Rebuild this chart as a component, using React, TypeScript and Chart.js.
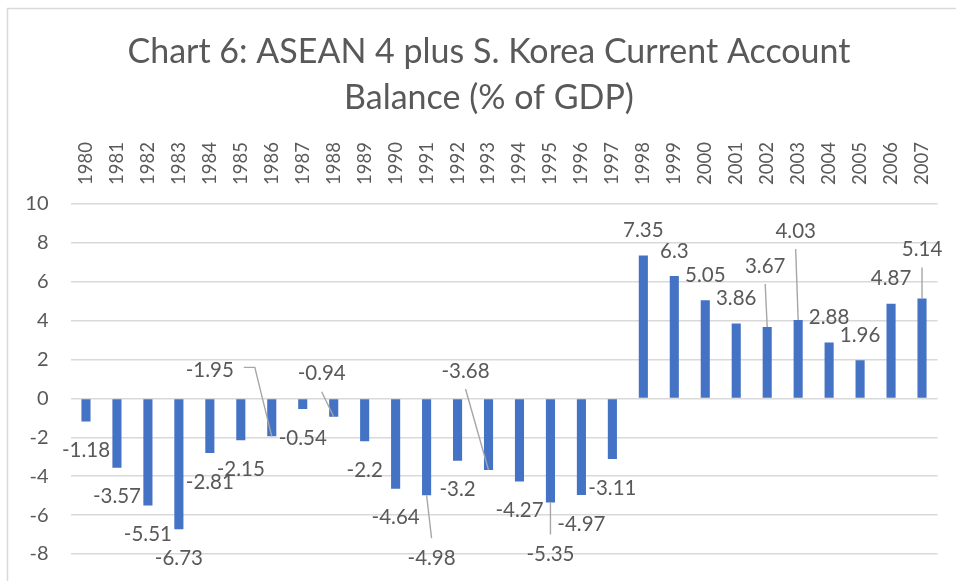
import React, { useEffect, useRef } from "react";
import { Chart, registerables } from "chart.js";

Chart.register(...registerables);

const years = [
  "1980", "1981", "1982", "1983", "1984", "1985", "1986", "1987", "1988", "1989",
  "1990", "1991", "1992", "1993", "1994", "1995", "1996", "1997", "1998", "1999",
  "2000", "2001", "2002", "2003", "2004", "2005", "2006", "2007",
];

const balance = [
  -1.18, -3.57, -5.51, -6.73, -2.81, -2.15, -1.95, -0.54, -0.94, -2.2,
  -4.64, -4.98, -3.2, -3.68, -4.27, -5.35, -4.97, -3.11, 7.35, 6.3,
  5.05, 3.86, 3.67, 4.03, 2.88, 1.96, 4.87, 5.14,
];

const yMin = -8;
const yMax = 10;
const yStep = 2;

const titleLines = [
  "Chart 6: ASEAN 4 plus S. Korea Current Account",
  "Balance (% of GDP)",
];

const TEXT = "#595959";
const GRID = "#d9d9d9";
const BAR = "#4472c4";
const LEADER = "#a6a6a6";
const FONT = "Lato, 'Open Sans', sans-serif";
const YEAR_FONT_SIZE = 18.5;

// Manually moved data labels (offset of label centre from bar end, in px) with leader lines
const movedLabels: Record<string, { dx: number; dy: number; leader: "v" | "side" }> = {
  "1986": { dx: -62, dy: -66, leader: "side" },
  "1988": { dx: -12, dy: -43, leader: "v" },
  "1991": { dx: 5, dy: 63, leader: "v" },
  "1993": { dx: -23, dy: -99, leader: "v" },
  "1995": { dx: 0, dy: 52, leader: "v" },
  "2002": { dx: -2, dy: -61, leader: "v" },
  "2003": { dx: -2.5, dy: -89, leader: "v" },
  "2007": { dx: 0, dy: -49, leader: "v" },
};

const framePlugin = {
  id: "frame",
  beforeDraw(chart: any) {
    const ctx = chart.ctx;
    ctx.save();
    ctx.fillStyle = "#ffffff";
    ctx.fillRect(0, 0, chart.width, chart.height);
    ctx.strokeStyle = GRID;
    ctx.lineWidth = 1.5;
    ctx.strokeRect(7.5, 8.5, chart.width + 20, chart.height + 20);
    ctx.restore();
  },
};

const titlePlugin = {
  id: "excelTitle",
  afterDraw(chart: any) {
    const ctx = chart.ctx;
    ctx.save();
    ctx.font = `34px ${FONT}`;
    ctx.fillStyle = TEXT;
    ctx.textAlign = "center";
    ctx.textBaseline = "middle";
    const cx = 489;
    titleLines.forEach((line, i) => {
      ctx.fillText(line, cx, 52 + i * 46);
    });
    ctx.restore();
  },
};

const labelPlugin = {
  id: "barLabels",
  afterDatasetsDraw(chart: any) {
    const ctx = chart.ctx;
    const meta = chart.getDatasetMeta(0);
    ctx.save();
    ctx.font = `20.5px ${FONT}`;
    ctx.fillStyle = TEXT;
    ctx.textAlign = "center";
    ctx.textBaseline = "middle";
    meta.data.forEach((el: any, i: number) => {
      const v = balance[i];
      const text = String(v);
      const { x, y } = el.getProps(["x", "y"], true);
      let lx = x;
      let ly = v < 0 ? y + 29 : y - 25;
      const m = movedLabels[years[i]];
      if (m) {
        lx = x + m.dx;
        ly = y + m.dy;
        ctx.strokeStyle = LEADER;
        ctx.lineWidth = 1.4;
        ctx.beginPath();
        if (m.leader === "side") {
          const w = ctx.measureText(text).width;
          const sx = lx + w / 2 + 10;
          ctx.moveTo(sx, ly - 3);
          ctx.lineTo(sx + 11, ly - 3);
          ctx.lineTo(x, y);
        } else {
          const sy = ly + (m.dy > 0 ? -20 : 18);
          ctx.moveTo(lx, sy);
          ctx.lineTo(x, y);
        }
        ctx.stroke();
      }
      ctx.fillText(text, lx, ly);
    });
    ctx.restore();
  },
};

export default function App() {
  const canvasRef = useRef<HTMLCanvasElement | null>(null);

  useEffect(() => {
    document.body.style.margin = "0";
    const canvas = canvasRef.current;
    if (!canvas) return;
    const chart = new Chart(canvas, {
      type: "bar",
      data: {
        labels: years,
        datasets: [
          {
            data: balance,
            backgroundColor: BAR,
            borderWidth: 0,
            categoryPercentage: 1,
            barPercentage: 0.294,
          },
        ],
      },
      options: {
        animation: false,
        responsive: false,
        maintainAspectRatio: false,
        devicePixelRatio: 1,
        layout: { padding: { top: 121, left: 8, right: 18.5, bottom: 27 } },
        plugins: {
          legend: { display: false },
          tooltip: { enabled: false },
          title: { display: false },
        },
        scales: {
          x: {
            position: "top",
            grid: { display: false, drawTicks: false },
            border: { display: false },
            ticks: {
              autoSkip: false,
              maxRotation: 90,
              minRotation: 90,
              padding: 19,
              labelOffset: YEAR_FONT_SIZE * 1.2,
              color: TEXT,
              font: { family: FONT, size: YEAR_FONT_SIZE },
            },
            afterFit(scale: any) {
              scale.height = 83;
              scale.paddingLeft = 0;
              scale.paddingRight = 0;
            },
          },
          y: {
            min: yMin,
            max: yMax,
            grid: { color: GRID, lineWidth: 1.5, drawTicks: false },
            border: { display: false },
            ticks: {
              stepSize: yStep,
              padding: 22,
              color: TEXT,
              font: { family: FONT, size: 20 },
            },
            afterFit(scale: any) {
              scale.width = 62.5;
              scale.paddingTop = 0;
              scale.paddingBottom = 0;
            },
          },
        },
      },
      plugins: [framePlugin, labelPlugin, titlePlugin],
    });
    return () => chart.destroy();
  }, []);

  return (
    <div style={{ position: "absolute", left: 0, top: 0, width: 956, height: 581 }}>
      <canvas ref={canvasRef} width={956} height={581} />
    </div>
  );
}
